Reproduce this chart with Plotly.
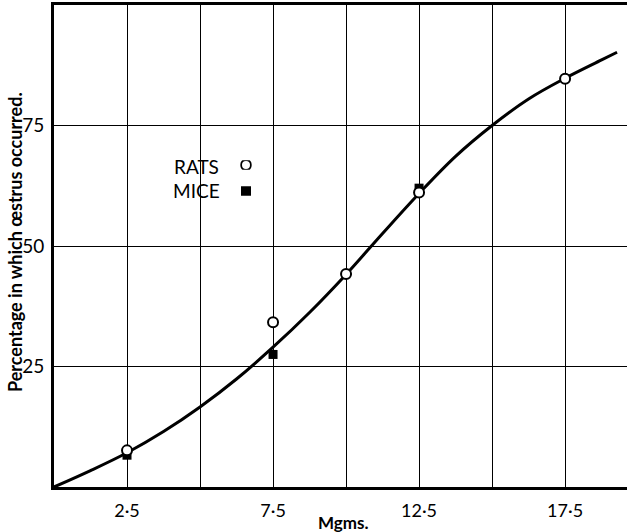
import plotly.graph_objects as go

# Data
rats_x = [2.5, 7.5, 10.0, 12.5, 17.5]
rats_y = [7.6, 34.2, 44.2, 61.1, 84.7]
mice_x = [2.5, 7.5, 12.5]
mice_y = [6.6, 27.5, 62.0]
curve_x = [0.0, 1.25, 2.5, 3.75, 5.0, 6.25, 7.5, 8.75, 10.0, 11.25, 12.5,
           13.75, 15.0, 16.25, 17.5, 18.75, 19.28]
curve_y = [0.0, 3.4, 7.1, 11.5, 16.6, 22.4, 29.0, 36.2, 44.1, 52.6, 60.9,
           68.6, 75.0, 80.5, 84.8, 88.6, 90.2]

x_ticks = [2.5, 5.0, 7.5, 10.0, 12.5, 15.0, 17.5]
x_ticktext = ["2·5", "", "7·5", "", "12·5", "", "17·5"]
y_ticks = [25, 50, 75]
y_ticktext = ["25", "50", "75"]

FONT = "Lato"
W, H = 627, 532
L, R, T, B = 54, 0, 5, 45
PW, PH = W - L - R, H - T - B


def px_x(p):
    return (p - L) / PW


def px_y(p):
    return (H - B - p) / PH


fig = go.Figure()
fig.add_trace(go.Scatter(x=curve_x, y=curve_y, mode="lines",
                         line=dict(color="black", width=3, shape="spline", smoothing=1.0),
                         hoverinfo="skip", showlegend=False))
fig.add_trace(go.Scatter(x=mice_x, y=mice_y, mode="markers", name="MICE",
                         marker=dict(symbol="square", size=9, color="black",
                                     line=dict(color="black", width=0)),
                         showlegend=False))
fig.add_trace(go.Scatter(x=rats_x, y=rats_y, mode="markers", name="RATS",
                         marker=dict(symbol="circle", size=10, color="white",
                                     line=dict(color="black", width=2)),
                         showlegend=False))

# legend keys
fig.add_trace(go.Scatter(x=[0.5], y=[0.5], xaxis="x2", yaxis="y2", mode="markers",
                         marker=dict(symbol="circle", size=10, color="white",
                                     line=dict(color="black", width=2)),
                         hoverinfo="skip", showlegend=False))
fig.add_trace(go.Scatter(x=[0.5], y=[0.5], xaxis="x3", yaxis="y3", mode="markers",
                         marker=dict(symbol="square", size=10, color="black"),
                         hoverinfo="skip", showlegend=False))

lx = px_x(246)
ly1 = px_y(165)
ly2 = px_y(191)
d = 0.01

fig.update_layout(
    width=W, height=H,
    margin=dict(l=L, r=R, t=T, b=B),
    paper_bgcolor="white", plot_bgcolor="white",
    font=dict(family=FONT, color="black"),
    xaxis=dict(range=[0, 19.62], tickvals=x_ticks, ticktext=x_ticktext,
               showgrid=True, gridcolor="black", gridwidth=1.2,
               showline=True, linecolor="black", linewidth=2.5, mirror=True,
               ticks="", zeroline=False, ticklabelstandoff=6,
               tickfont=dict(family=FONT, size=18, color="black")),
    yaxis=dict(range=[0, 100], tickvals=y_ticks, ticktext=y_ticktext,
               showgrid=True, gridcolor="black", gridwidth=1.2,
               showline=True, linecolor="black", linewidth=3, mirror=False,
               ticks="", zeroline=False, ticklabelstandoff=3,
               tickfont=dict(family=FONT, size=19, color="black")),
    xaxis2=dict(domain=[lx - d, lx + d], range=[0, 1], visible=False, anchor="y2"),
    yaxis2=dict(domain=[ly1 - d, ly1 + d], range=[0, 1], visible=False, anchor="x2"),
    xaxis3=dict(domain=[lx - d, lx + d], range=[0, 1], visible=False, anchor="y3"),
    yaxis3=dict(domain=[ly2 - d, ly2 + d], range=[0, 1], visible=False, anchor="x3"),
    annotations=[
        dict(text="Mgms.", x=px_x(343), xref="paper", y=px_y(522), yref="paper",
             showarrow=False, xanchor="center", yanchor="middle",
             font=dict(family=FONT, size=17, color="black", weight="bold")),
        dict(text="Percentage in which œstrus occurred.", x=px_x(15), xref="paper",
             y=px_y(242), yref="paper", showarrow=False, textangle=-90,
             xanchor="center", yanchor="middle",
             font=dict(family=FONT, size=18, color="black", weight="bold")),
        dict(text="RATS", x=px_x(196), xref="paper", y=px_y(166), yref="paper",
             showarrow=False, xanchor="center", yanchor="middle",
             font=dict(family=FONT, size=19, color="black")),
        dict(text="MICE", x=px_x(196), xref="paper", y=px_y(191), yref="paper",
             showarrow=False, xanchor="center", yanchor="middle",
             font=dict(family=FONT, size=19, color="black")),
    ],
)

fig.write_html("out.html", config={"displayModeBar": False},
               post_script="document.body.style.margin='0';document.body.style.padding='0';")
